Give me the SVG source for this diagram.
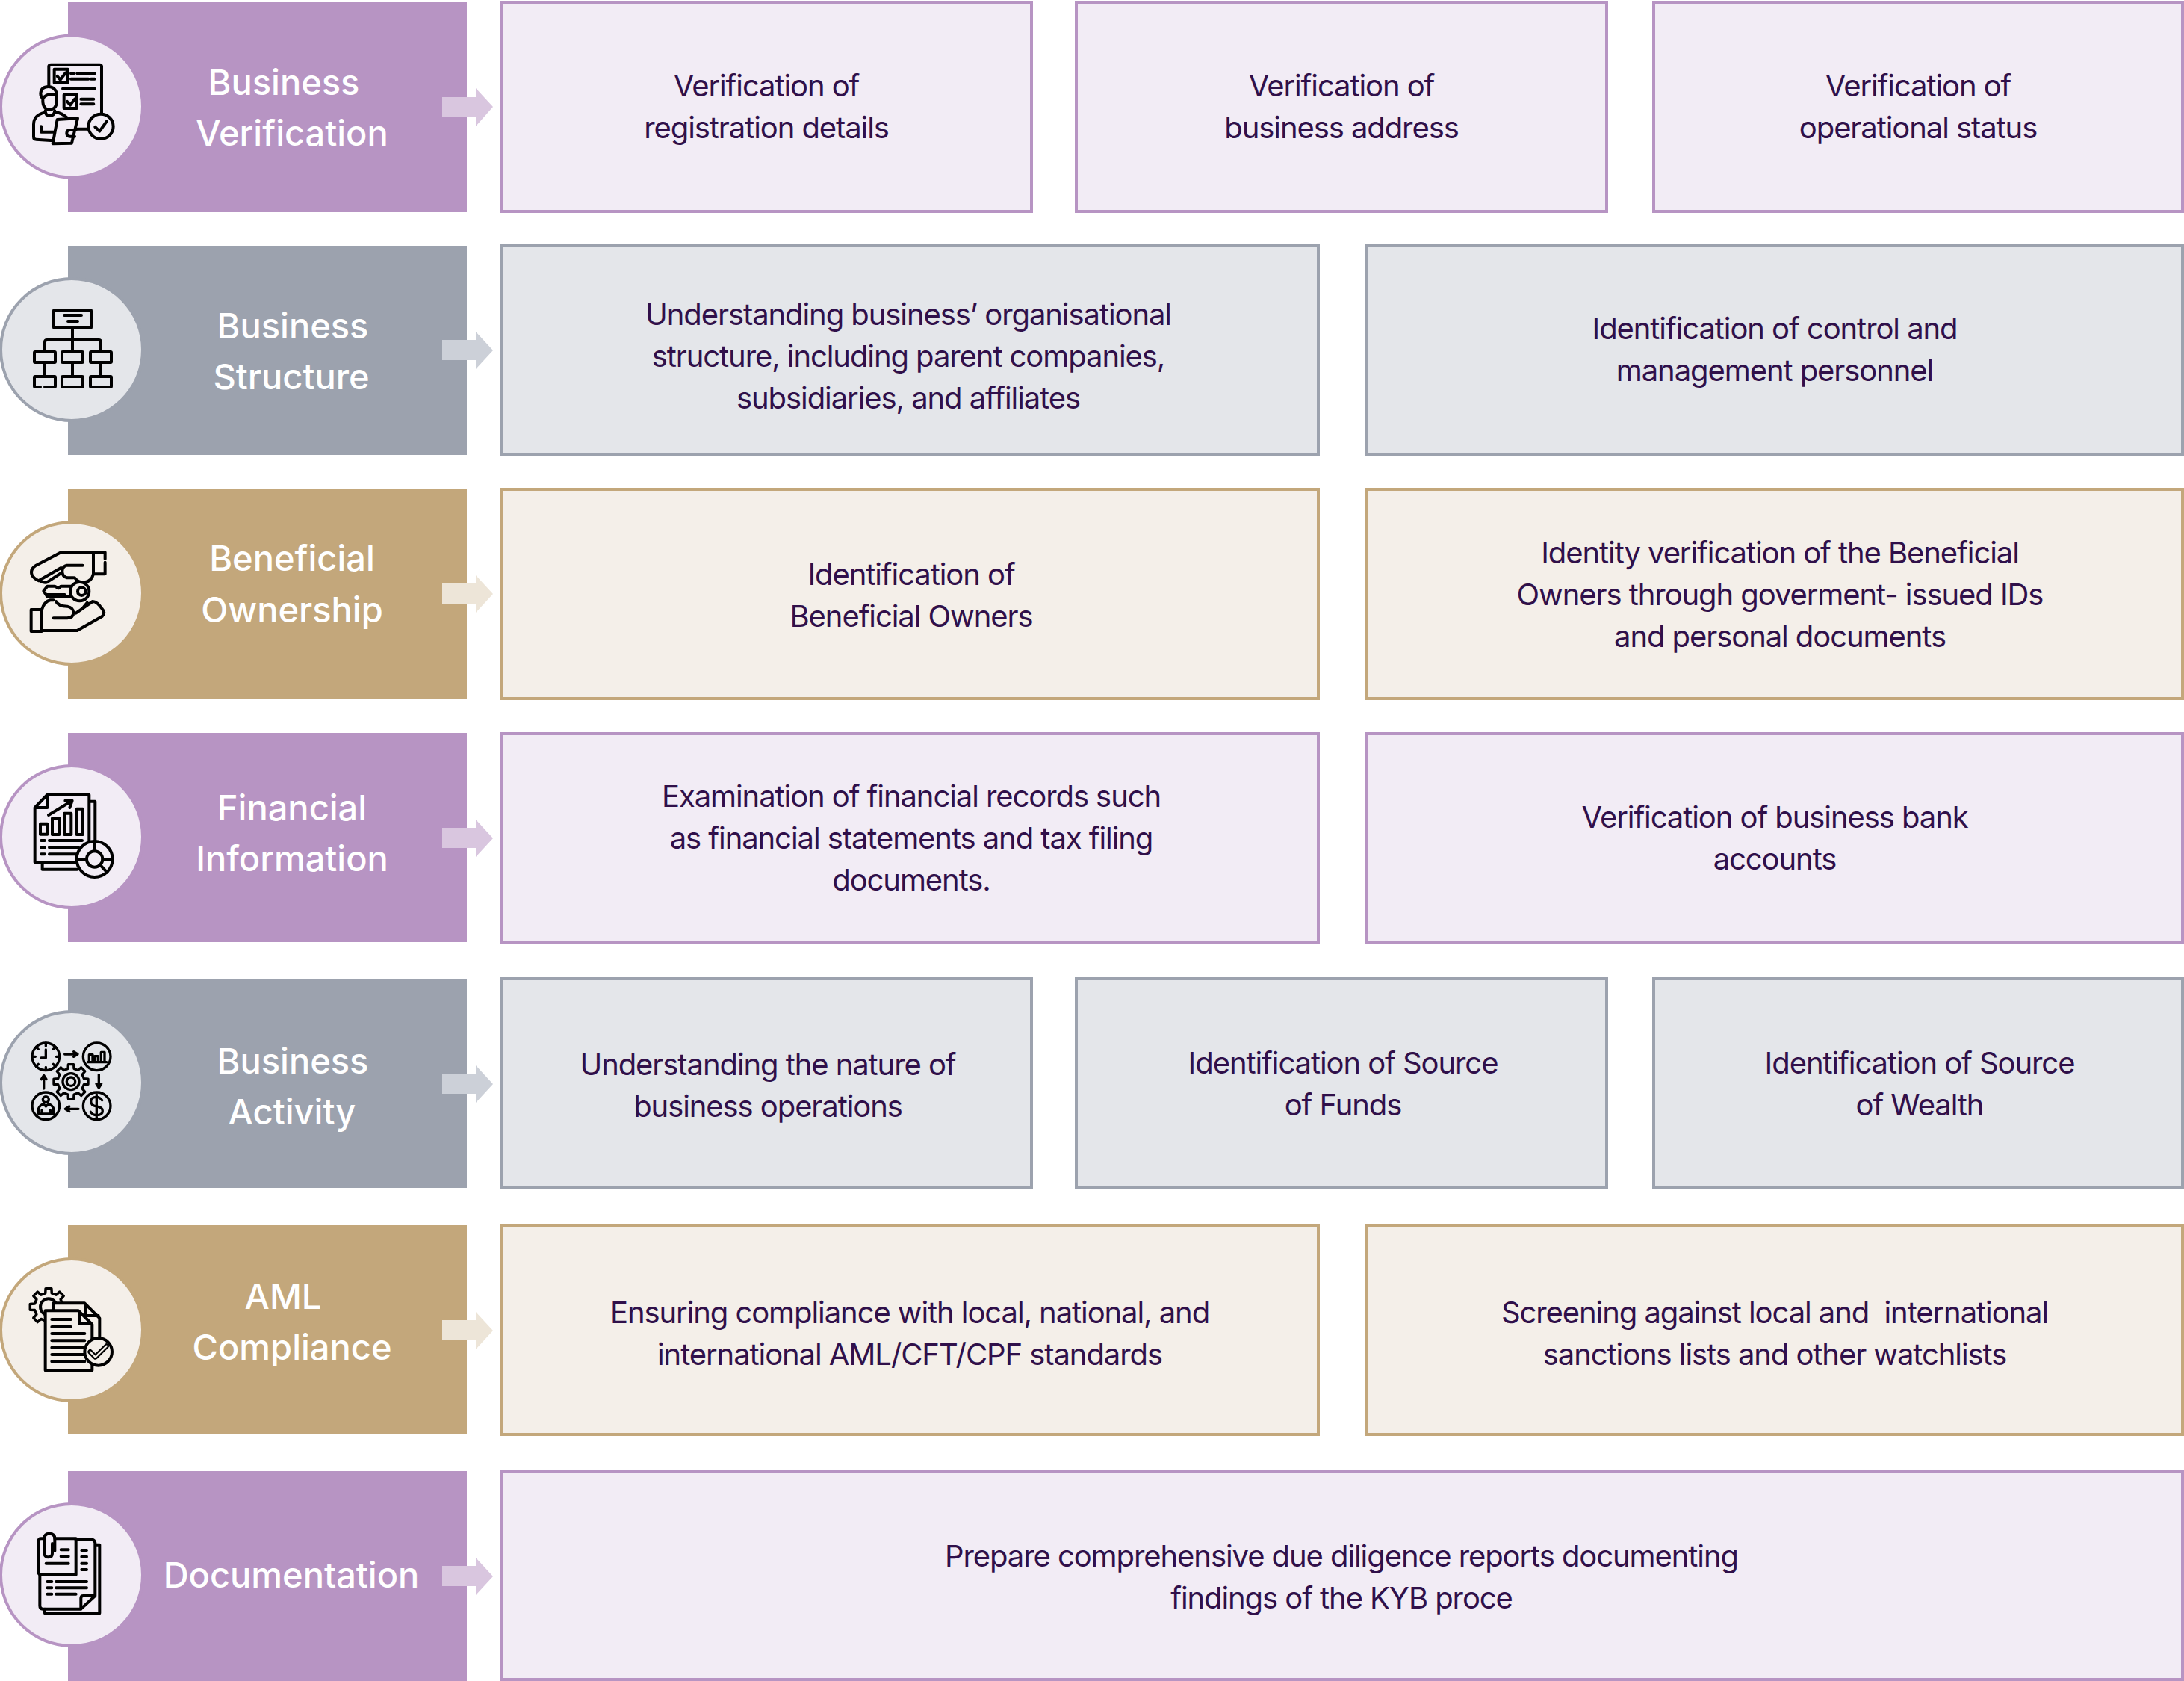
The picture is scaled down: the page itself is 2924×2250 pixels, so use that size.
<svg xmlns="http://www.w3.org/2000/svg" width="2924" height="2250" viewBox="0 0 2924 2250">
<style>
text{font-family:"Inter","Noto Sans","Liberation Sans",sans-serif;text-anchor:middle;white-space:pre}
.h{font-size:47px;font-weight:500;fill:#fff}
.d{font-size:40px;letter-spacing:-1.08px;fill:#30104a}
.hp{fill:#b794c3}.hg{fill:#9ca2ae}.ht{fill:#c3a77b}
.bp{fill:#f2ecf5;stroke:#b794c3;stroke-width:4}
.bg{fill:#e4e6ea;stroke:#9ca2ae;stroke-width:4}
.bt{fill:#f4efe9;stroke:#c3a77b;stroke-width:4}
.ap{fill:#d9c6df}.ag{fill:#ccd0d8}.at{fill:#ede5d8}
.i{fill:none;stroke:#000;stroke-width:12;stroke-linecap:round;stroke-linejoin:round}
</style>
<defs>
<path id="gear" d="M74 -17L98.8 -15.6L98.8 15.6L74 17L64.5 40.3L80.9 58.8L58.8 80.9L40.3 64.5L17.1 74L15.6 98.8L-15.6 98.8L-17.1 74L-40.3 64.5L-58.8 80.9L-80.9 58.8L-64.5 40.3L-74 17L-98.8 15.6L-98.8 -15.6L-74 -17L-64.5 -40.3L-80.9 -58.8L-58.8 -80.9L-40.3 -64.5L-17.1 -74L-15.6 -98.8L15.6 -98.8L17.1 -74L40.3 -64.5L58.8 -80.9L80.9 -58.8L64.5 -40.3Z"/>
</defs>

<g id="row-business-verification">
<rect class="hp" x="91" y="3" width="534" height="281"/>
<circle class="bp" cx="96" cy="142.500" r="95"/>
<g class="i" transform="translate(20 30) scale(.3333)">
<path d="M348 365V178Q348 170 340 170H145Q136 170 136 178V258"/>
<rect x="158" y="188" width="55" height="55"/><path d="M170 216L182 230L203 203"/>
<path d="M225 205H238M250 205H320M225 227H295M305 227H320M192 266H320"/>
<rect x="197" y="290" width="52" height="55"/><path d="M210 318L222 332L240 308M265 308H316M265 328H316"/>
<path d="M112 305V320Q115 350 138 350Q165 350 168 320V285Q160 258 135 258Q105 258 103 285Q103 298 112 305Q130 282 168 290"/>
<path d="M122 355Q122 375 140 375Q158 375 160 355M120 362Q75 372 75 410V460Q75 470 85 470L155 475M165 360Q190 365 208 382M105 418V440H160"/>
<path d="M170 390L252 385L228 485L152 487Z" style="fill:#f2ecf5"/>
<path d="M245 432H222Q208 432 208 445Q208 458 222 458H240M250 428H295"/>
<circle cx="345" cy="418" r="50"/><path d="M322 420L340 437L368 398"/>
</g>
<text class="h" x="380" y="127">Business</text>
<text class="h" x="391" y="195">Verification</text>
</g>
<g id="box-registration"><rect class="bp" x="672" y="3" width="709" height="280"/><text class="d" x="1026" y="129">Verification of</text><text class="d" x="1026" y="185">registration details</text></g>
<g id="box-address"><rect class="bp" x="1441" y="3" width="710" height="280"/><text class="d" x="1796" y="129">Verification of</text><text class="d" x="1796" y="185">business address</text></g>
<g id="box-status"><rect class="bp" x="2214" y="3" width="708" height="280"/><text class="d" x="2568" y="129">Verification of</text><text class="d" x="2568" y="185">operational status</text></g>

<g id="row-business-structure">
<rect class="hg" x="91" y="329" width="534" height="280"/>
<circle class="bg" cx="96" cy="468" r="95"/>
<g class="i" style="stroke-width:4">
<rect x="72" y="415" width="50" height="24" rx="1"/><path d="M86 422H109M91 430H104M97 439V455M60 470V458Q60 455 63 455H132Q135 455 135 458V470M97 455V471"/>
<rect x="46" y="471" width="28" height="14" rx="1"/><rect x="83" y="471" width="28" height="14" rx="1"/><rect x="121" y="471" width="28" height="14" rx="1"/>
<path d="M60 485V504M97 485V504M135 485V504"/>
<path d="M54 518H47Q46 518 46 517V505Q46 504 47 504H73Q74 504 74 505V517Q74 518 73 518H60"/><rect x="83" y="504" width="28" height="14" rx="1"/><rect x="121" y="504" width="28" height="14" rx="1"/>
</g>
<text class="h" x="392" y="453">Business</text>
<text class="h" x="390" y="521">Structure</text>
</g>
<g id="box-org-structure"><rect class="bg" x="672" y="329" width="1093" height="280"/><text class="d" x="1216" y="435">Understanding business’ organisational</text><text class="d" x="1216" y="491">structure, including parent companies,</text><text class="d" x="1216" y="547">subsidiaries, and affiliates</text></g>
<g id="box-control"><rect class="bg" x="1830" y="329" width="1092" height="280"/><text class="d" x="2376" y="454">Identification of control and</text><text class="d" x="2376" y="510">management personnel</text></g>

<g id="row-beneficial-ownership">
<rect class="ht" x="91" y="654" width="534" height="281"/>
<circle class="bt" cx="96" cy="794" r="95"/>
<g class="i" transform="translate(30 690) scale(.3333)">
<path d="M332 175V148H155L55 200Q30 215 38 238Q45 252 65 262L155 210M242 200H178Q160 205 160 225Q160 245 180 250H205M332 188V235H285M285 148V235M70 262Q90 275 103 265L160 228"/>
<path d="M285 235Q278 265 250 268Q225 270 210 250"/>
<circle cx="230" cy="305" r="38" style="fill:#f4efe9"/><circle cx="238" cy="305" r="16"/>
<path d="M195 284H155L145 292L130 284H100L85 303L100 326H195M100 318H170"/>
<path d="M35 378H78V465H35ZM78 378Q88 345 112 340H125M135 345Q145 365 180 365Q205 370 205 390Q205 410 180 412H125M215 392L282 345Q300 345 320 375Q335 390 320 405L220 462H78M240 375L260 350"/>
</g>
<text class="h" x="391" y="764">Beneficial</text>
<text class="h" x="391" y="833">Ownership</text>
</g>
<g id="box-owners"><rect class="bt" x="672" y="655" width="1093" height="280"/><text class="d" x="1220" y="783">Identification of</text><text class="d" x="1220" y="839">Beneficial Owners</text></g>
<g id="box-identity"><rect class="bt" x="1830" y="655" width="1092" height="280"/><text class="d" x="2383" y="754">Identity verification of the Beneficial</text><text class="d" x="2383" y="810">Owners through goverment- issued IDs</text><text class="d" x="2383" y="866">and personal documents</text></g>

<g id="row-financial-information">
<rect class="hp" x="91" y="981" width="534" height="280"/>
<circle class="bp" cx="96" cy="1120" r="95"/>
<g class="i" transform="translate(30 1051) scale(.3333)">
<path d="M272 65H292V240M80 312V338H220M268 240V38H100L50 90V310H225M100 38V90H50"/>
<rect x="72" y="155" width="28" height="42"/><rect x="120" y="133" width="28" height="65"/><rect x="168" y="113" width="28" height="85"/><rect x="218" y="95" width="25" height="103"/>
<path d="M105 120L195 65M172 62H200L190 90"/>
<path d="M75 222H90M108 222H240M75 250H90M108 250H225M75 277H90M108 277H225"/>
<circle cx="290" cy="297" r="72" style="fill:#f2ecf5"/><circle cx="290" cy="297" r="32"/>
<path d="M290 225V265M220 297H258M322 297H360M312 320L340 350"/>
</g>
<text class="h" x="391" y="1098">Financial</text>
<text class="h" x="391" y="1166">Information</text>
</g>
<g id="box-records"><rect class="bp" x="672" y="982" width="1093" height="279"/><text class="d" x="1220" y="1080">Examination of financial records such</text><text class="d" x="1220" y="1136">as financial statements and tax filing</text><text class="d" x="1220" y="1192">documents.</text></g>
<g id="box-bank"><rect class="bp" x="1830" y="982" width="1092" height="279"/><text class="d" x="2376" y="1108">Verification of business bank</text><text class="d" x="2376" y="1164">accounts</text></g>

<g id="row-business-activity">
<rect class="hg" x="91" y="1310" width="534" height="280"/>
<circle class="bg" cx="96" cy="1449" r="95"/>
<g class="i" style="stroke-width:10" transform="translate(30 1381) scale(.3333)">
<circle cx="94" cy="100" r="55"/><path d="M94 72V105H75M94 45V58M94 142V155M39 100H52M136 100H149M55 61L64 70M124 130L133 139M133 61L124 70M64 130L55 139"/>
<circle cx="299" cy="100" r="55"/><path d="M262 122H338M268 122V92H282V122M290 122V98H304V122M316 122V82H330V122"/>
<path d="M170 90H222M206 80L222 90L206 100M307 172V225M297 209L307 225L317 209M225 310H172M188 300L172 310L188 320M86 228V175M76 191L86 175L96 191"/>
<use href="#gear" transform="translate(195 200) scale(.7)" style="stroke-width:14"/>
<circle cx="195" cy="200" r="33"/><circle cx="195" cy="200" r="17"/>
<circle cx="94" cy="298" r="55"/><circle cx="94" cy="272" r="12"/><path d="M65 330V308Q70 295 85 290L94 300L105 290Q120 295 125 308V330ZM78 330V315M112 330V315"/>
<circle cx="299" cy="298" r="55"/><path d="M320 275Q310 262 298 262Q275 262 275 280Q275 297 298 300Q322 303 322 318Q322 335 298 335Q282 335 274 322M298 252V345"/>
</g>
<text class="h" x="392" y="1437">Business</text>
<text class="h" x="391" y="1505">Activity</text>
</g>
<g id="box-nature"><rect class="bg" x="672" y="1310" width="709" height="280"/><text class="d" x="1028" y="1439">Understanding the nature of</text><text class="d" x="1028" y="1495">business operations</text></g>
<g id="box-funds"><rect class="bg" x="1441" y="1310" width="710" height="280"/><text class="d" x="1798" y="1437">Identification of Source</text><text class="d" x="1798" y="1493">of Funds</text></g>
<g id="box-wealth"><rect class="bg" x="2214" y="1310" width="708" height="280"/><text class="d" x="2570" y="1437">Identification of Source</text><text class="d" x="2570" y="1493">of Wealth</text></g>

<g id="row-aml-compliance">
<rect class="ht" x="91" y="1640" width="534" height="280"/>
<circle class="bt" cx="96" cy="1780" r="95"/>
<g class="i" transform="translate(30 1711) scale(.3333)">
<use href="#gear" transform="translate(105 115) scale(.75)" style="stroke-width:14"/>
<circle cx="105" cy="115" r="33"/>
<path d="M125 135V100H250L310 160V260H125Z" style="fill:#f4efe9"/><path d="M255 105V150H305"/>
<path d="M92 130H225L280 185V370H92Z" style="fill:#f4efe9"/><path d="M228 135V182H275"/>
<path d="M118 165H195M118 195H195M118 222H250M118 250H250M118 278H250M118 306H250M118 334H250"/>
<circle cx="305" cy="295" r="55" style="fill:#f4efe9"/>
<path d="M272 295L293 316L338 272" style="stroke-width:20"/><path d="M272 295L293 316L338 272" style="stroke:#f4efe9;stroke-width:7"/>
</g>
<text class="h" x="379" y="1752">AML</text>
<text class="h" x="391" y="1820">Compliance</text>
</g>
<g id="box-standards"><rect class="bt" x="672" y="1640" width="1093" height="280"/><text class="d" x="1218" y="1771">Ensuring compliance with local, national, and</text><text class="d" x="1218" y="1827">international AML/CFT/CPF standards</text></g>
<g id="box-sanctions"><rect class="bt" x="1830" y="1640" width="1092" height="280"/><text class="d" x="2376" y="1771">Screening against local and  international</text><text class="d" x="2376" y="1827">sanctions lists and other watchlists</text></g>

<g id="row-documentation">
<rect class="hp" x="91" y="1969" width="534" height="281"/>
<circle class="bp" cx="96" cy="2108" r="95"/>
<g class="i" transform="translate(40 2041) scale(.3333)">
<path d="M265 80H280V355H60V338"/>
<path d="M40 200V325Q40 338 52 338H205L262 285V72Q260 60 250 60H185M262 285H215Q205 285 205 295V338"/>
<path d="M185 200H45Q35 200 35 190V65Q35 55 45 55H58M100 55H185V200"/>
<path d="M90 75V115Q90 130 75 130Q58 130 58 110V55Q58 35 78 35Q100 35 100 55V105"/>
<path d="M125 100H155M125 127H155M65 155H155M208 102H228M208 128H228M208 155H228M208 180H228"/>
<path d="M70 228H88M105 228H228M70 253H88M105 253H228M70 278H88M105 278H185"/>
</g>
<text class="h" x="390" y="2125">Documentation</text>
</g>
<g id="box-reports"><rect class="bp" x="672" y="1970" width="2250" height="278"/><text class="d" x="1796" y="2097">Prepare comprehensive due diligence reports documenting</text><text class="d" x="1796" y="2153">findings of the KYB proce</text></g>

<g id="connectors">
<path class="ap" d="M592 130H637V118L660 143L637 169V156H592Z"/>
<path class="ag" d="M592 455H637V444L660 469L637 494V482H592Z"/>
<path class="at" d="M592 781H637V770L660 795L637 820V808H592Z"/>
<path class="ap" d="M592 1108H637V1097L660 1122L637 1147V1135H592Z"/>
<path class="ag" d="M592 1437H637V1426L660 1451L637 1476V1464H592Z"/>
<path class="at" d="M592 1767H637V1756L660 1781L637 1806V1794H592Z"/>
<path class="ap" d="M592 2096H637V2085L660 2110L637 2135V2123H592Z"/>
</g>
</svg>
